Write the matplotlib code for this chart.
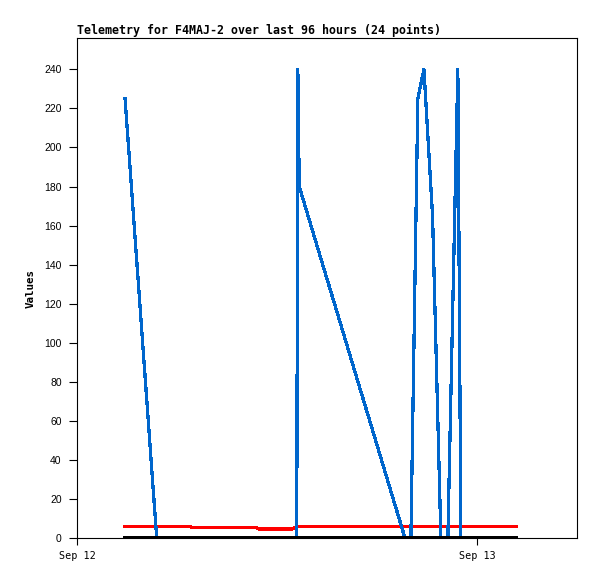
import matplotlib
matplotlib.use('Agg')
import matplotlib.pyplot as plt
import matplotlib.dates as mdates
import pandas as pd

# telemetry samples (24 points)
times = [
    '2024-09-12 02:53', '2024-09-12 04:47', '2024-09-12 06:48', '2024-09-12 06:52',
    '2024-09-12 10:48', '2024-09-12 10:52', '2024-09-12 12:55', '2024-09-12 13:11',
    '2024-09-12 13:15', '2024-09-12 13:20', '2024-09-12 19:41', '2024-09-12 20:02',
    '2024-09-12 20:27', '2024-09-12 20:49', '2024-09-12 21:20', '2024-09-12 21:50',
    '2024-09-12 22:15', '2024-09-12 22:51', '2024-09-12 23:02', '2024-09-12 23:48',
    '2024-09-13 00:36', '2024-09-13 01:18', '2024-09-13 01:54', '2024-09-13 02:22',
]
blue_vals = [225, 0, 0, 0, 0, 0, 0, 0, 240, 180, 0, 0,
             225, 240, 165, 0, 0, 240, 0, 0, 0, 0, 0, 0]
red_vals = [6.0, 6.0, 6.0, 5.4, 5.4, 4.8, 4.8, 6.0, 6.0, 6.0, 6.0, 6.0,
            6.0, 6.0, 6.0, 6.0, 6.0, 6.0, 6.0, 6.0, 6.0, 6.0, 6.0, 6.0]
black_vals = [0] * 24

title = 'Telemetry for F4MAJ-2 over last 96 hours (24 points)'
x_start = '2024-09-12 00:00'
x_end = '2024-09-13 06:00'

t = pd.to_datetime(times)

fig = plt.figure(figsize=(5.97, 5.79), dpi=100)
ax = fig.add_axes([77 / 597, 40.7 / 579, 500 / 597, 500.3 / 579])

ax.plot(t, red_vals, color='#ff0000', lw=1.6, antialiased=False)
ax.plot(t, blue_vals, color='#0066cc', lw=1.6, antialiased=False)
ax.plot(t, black_vals, color='black', lw=1.6, antialiased=False)

ax.set_xlim(pd.Timestamp(x_start), pd.Timestamp(x_end))
ax.set_ylim(0, 256)
ax.set_yticks(range(0, 241, 20))
ax.xaxis.set_major_locator(mdates.DayLocator())
ax.xaxis.set_major_formatter(mdates.DateFormatter('%b %d'))

for s in ax.spines.values():
    s.set_linewidth(0.8)
    s.set_color('black')

ax.tick_params(axis='y', direction='out', length=6, width=0.8, pad=5,
               labelsize=7.5)
ax.tick_params(axis='x', direction='out', length=5, width=0.8, pad=4,
               labelsize=7.3)
for lab in ax.get_xticklabels():
    lab.set_family('DejaVu Sans Mono')
for lab in ax.get_yticklabels():
    lab.set_family('Liberation Sans')

ax.set_ylabel('Values', family='DejaVu Sans Mono', fontweight='bold',
              fontsize=7.8, labelpad=6)
ax.set_title(title, loc='left', family='DejaVu Sans Mono', fontweight='bold',
             fontsize=8.35, pad=3)

fig.savefig('out.png', dpi=100)
